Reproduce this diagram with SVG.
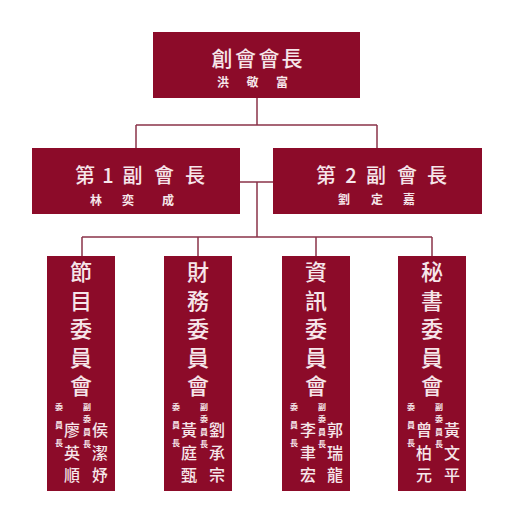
<svg xmlns="http://www.w3.org/2000/svg" width="512" height="512" viewBox="0 0 512 512">
<style>
.box{fill:#8c0b29}
text{font-family:"Noto Sans CJK TC","Noto Sans CJK SC",sans-serif;fill:#f6e6ea;text-anchor:middle;dominant-baseline:central}
.v{writing-mode:vertical-rl;text-anchor:start;text-orientation:upright}
.t1{font-size:21px;font-weight:500}
.t2{font-size:20px;font-weight:500}
.nm{font-size:12px;font-weight:bold}
.ct{font-size:22px;font-weight:500;letter-spacing:6.5px}
.cn{font-size:16px;font-weight:500;letter-spacing:6.5px}
.sl{font-size:8px;font-weight:bold;letter-spacing:10px}
.sr{font-size:8px;font-weight:bold;letter-spacing:4.3px}
.ln{stroke:#8a3349;stroke-width:1.5;fill:none}
</style>
<rect width="512" height="512" fill="#ffffff"/>
<g id="connectors" class="ln">
<path d="M257 98V125M136 125H377M136 125V148M377 125V148"/>
<path d="M240 182H273M257 182V237M82 237H432M82 237V256M198 237V256M316 237V256M432 237V256"/>
</g>
<g id="president">
<rect class="box" x="153" y="32" width="207" height="66"/>
<text class="t1" x="222 245.5 269 292" y="57">創會會長</text>
<text class="nm" x="223 252.5 282" y="81">洪敬富</text>
</g>
<g id="vp1">
<rect class="box" x="32" y="148" width="208" height="66"/>
<text class="t2" x="85 108 132.5 164 195" y="174">第1副會長</text>
<text class="nm" x="96 128 168" y="199">林奕成</text>
</g>
<g id="vp2">
<rect class="box" x="273" y="148" width="209" height="66"/>
<text class="t2" x="326 351 376 407 437" y="174">第2副會長</text>
<text class="nm" x="344 377 409" y="198">劉定嘉</text>
</g>
<g id="c1">
<rect class="box" x="47" y="256" width="68" height="235"/>
<text class="v ct" x="81" y="261">節目委員會</text>
<text class="v sl" x="59" y="403">委員長</text>
<text class="v sr" x="87" y="403">副委員長</text>
<text class="v cn" x="72" y="422">廖英順</text>
<text class="v cn" x="100" y="422">侯潔妤</text>
</g>
<g id="c2">
<rect class="box" x="164" y="256" width="68" height="235"/>
<text class="v ct" x="198" y="261">財務委員會</text>
<text class="v sl" x="176" y="403">委員長</text>
<text class="v sr" x="204" y="403">副委員長</text>
<text class="v cn" x="189" y="422">黃庭甄</text>
<text class="v cn" x="217" y="422">劉承宗</text>
</g>
<g id="c3">
<rect class="box" x="282" y="256" width="68" height="235"/>
<text class="v ct" x="316" y="261">資訊委員會</text>
<text class="v sl" x="294" y="403">委員長</text>
<text class="v sr" x="322" y="403">副委員長</text>
<text class="v cn" x="308" y="422">李聿宏</text>
<text class="v cn" x="335" y="422">郭瑞龍</text>
</g>
<g id="c4">
<rect class="box" x="398" y="256" width="68" height="235"/>
<text class="v ct" x="432" y="261">秘書委員會</text>
<text class="v sl" x="411" y="403">委員長</text>
<text class="v sr" x="439" y="403">副委員長</text>
<text class="v cn" x="424" y="422">曾柏元</text>
<text class="v cn" x="452" y="422">黃文平</text>
</g>
</svg>
